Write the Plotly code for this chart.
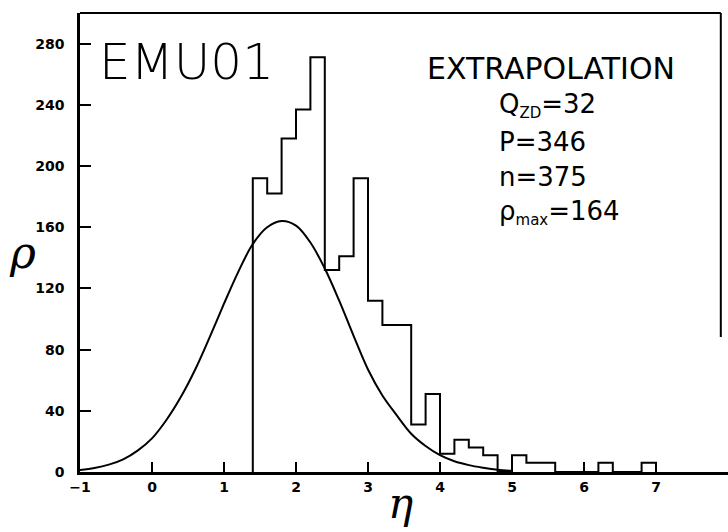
import plotly.graph_objects as go

# ---- data ----
bin_edges = [1.4, 1.6, 1.8, 2.0, 2.2, 2.4, 2.6, 2.8, 3.0, 3.2, 3.4, 3.6, 3.8, 4.0,
             4.2, 4.4, 4.6, 4.8, 5.0, 5.2, 5.4, 5.6, 5.8, 6.0, 6.2, 6.4, 6.6, 6.8, 7.0]
bin_rho = [192, 182, 218, 237, 271, 132, 141, 192, 112, 96, 96, 31, 51, 12,
           21, 16, 11, 0, 11, 6, 6, 0, 0, 0, 6, 0, 0, 6]

curve_eta = [-1.0, -0.8, -0.6, -0.4, -0.2, 0.0, 0.2, 0.4, 0.6, 0.8, 1.0, 1.2, 1.4,
             1.6, 1.8, 2.0, 2.2, 2.4, 2.6, 2.8, 3.0, 3.2, 3.4, 3.6, 3.8, 4.0,
             4.2, 4.4, 4.6, 4.8, 5.0]
curve_rho = [1.3, 2.6, 4.8, 8.3, 14, 22, 34, 49, 67, 88, 110, 131, 149,
             160, 164, 161, 150, 133, 112, 89, 67, 50, 37, 25, 17, 11,
             7, 4.5, 2.8, 1.5, 0.8]

x_ticks = [-1, 0, 1, 2, 3, 4, 5, 6, 7, 8]
y_ticks = [0, 40, 80, 120, 160, 200, 240, 280]

SUB = "<span style='font-size:15px'>%s</span>"
info_lines = ["Q<sub>" + SUB % "ZD" + "</sub>=32", "P=346", "n=375",
              "ρ<sub>" + SUB % "max" + "</sub>=164"]

W, H = 728, 532
ML, MR, MT, MB = 80, 0, 13, 60
PW, PH = W - ML - MR, H - MT - MB


def px(x):
    return (x - ML) / PW


def py(y):
    return (H - MB - y) / PH


hist_x = [bin_edges[0]] + bin_edges
hist_y = [0] + bin_rho + [0]

fig = go.Figure()
fig.add_trace(go.Scatter(x=hist_x, y=hist_y, mode="lines",
                         line=dict(shape="hv", color="black", width=2),
                         hoverinfo="skip", showlegend=False))
fig.add_trace(go.Scatter(x=curve_eta, y=curve_rho, mode="lines",
                         line=dict(shape="spline", color="black", width=2),
                         hoverinfo="skip", showlegend=False))

tickfont = dict(family="DejaVu Sans", size=14, color="black", weight="bold")
fig.update_xaxes(range=[-1, 8], tickvals=x_ticks, ticks="inside", ticklen=10,
                 tickwidth=2, tickcolor="black", showline=True, linewidth=2.5,
                 linecolor="black", showgrid=False, zeroline=False,
                 tickfont=tickfont, automargin=False)
fig.update_yaxes(range=[0, 300], tickvals=y_ticks, ticks="inside", ticklen=11,
                 tickwidth=2, tickcolor="black", showline=True, linewidth=2.5,
                 linecolor="black", showgrid=False, zeroline=False,
                 tickfont=tickfont, automargin=False, ticklabelstandoff=10)

# frame (top and right border)
fig.add_shape(type="line", xref="x", yref="paper", x0=-1, x1=7.9, y0=1, y1=1,
              line=dict(color="black", width=2))
fig.add_shape(type="line", xref="x", yref="paper", x0=7.9, x1=7.9, y0=1, y1=py(337),
              line=dict(color="black", width=2))

ann = []
ann.append(dict(text="EMU01", x=px(186), y=py(62), xref="paper", yref="paper",
                xanchor="center", yanchor="middle", showarrow=False,
                font=dict(family="DejaVu Sans", size=50, color="black", weight=200)))
ann.append(dict(text="EXTRAPOLATION", x=px(551), y=py(69), xref="paper", yref="paper",
                xanchor="center", yanchor="middle", showarrow=False,
                font=dict(family="DejaVu Sans", size=30, color="black")))
for i, t in enumerate(info_lines):
    ann.append(dict(text=t, x=px(497), y=py(106 + 35.5 * i), xref="paper", yref="paper",
                    xanchor="left", yanchor="middle", showarrow=False,
                    font=dict(family="DejaVu Sans", size=26, color="black")))
ann.append(dict(text="ρ", x=px(22), y=py(252), xref="paper", yref="paper",
                xanchor="center", yanchor="middle", showarrow=False,
                font=dict(family="DejaVu Serif", size=44, color="black", style="italic")))
ann.append(dict(text="η", x=px(400), y=py(530), xref="paper", yref="paper",
                xanchor="center", yanchor="bottom", showarrow=False,
                font=dict(family="DejaVu Serif", size=42, color="black", style="italic")))

fig.update_layout(width=W, height=H, margin=dict(l=ML, r=MR, t=MT, b=MB),
                  paper_bgcolor="white", plot_bgcolor="white", annotations=ann,
                  showlegend=False)

fig.write_html("out.html")
